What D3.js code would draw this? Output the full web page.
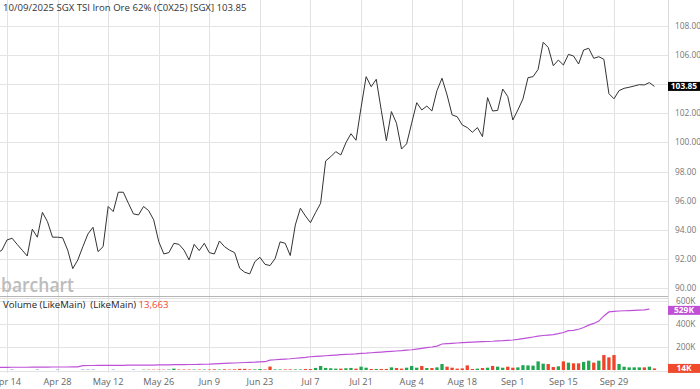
<!DOCTYPE html>
<html>
<head>
<meta charset="utf-8">
<script src="https://cdn.jsdelivr.net/npm/d3@7"></script>
<style>
    body { margin: 0; background: #fff; }
    svg { display: block; font-family: "Open Sans", "Noto Sans", sans-serif; }
</style>
</head>
<body>
<div id="chart"></div>
<script>
//-----DATA-----//
// daily closes, one per weekday from Apr 10 to Oct 9 2025
const firstDay = new Date(2025, 3, 10);
const lastDay = new Date(2025, 9, 9);

const closes = [
    92.4, 92.6,
    93.3, 93.42, 93.0, 92.6, 92.2, 94.04, 93.49, 95.2, 94.56, 93.49,
    93.49, 93.45, 92.6, 91.33, 91.93, 92.84, 93.71, 94.17, 92.5, 92.84,
    95.6, 95.25, 96.58, 96.58, 95.82, 95.09, 95.02, 95.6, 95.32, 94.68,
    93.19, 92.34, 92.43, 93.07, 93.0, 92.6, 91.93, 93.0, 92.57, 93.07,
    92.43, 92.34, 93.23, 92.84, 92.6, 92.43, 91.36, 91.08, 90.97, 91.81,
    92.11, 91.63, 91.54, 92.02, 93.17, 93.07, 92.23, 94.33, 95.48, 94.95,
    94.49, 95.18, 95.82, 98.73, 99.02, 99.37, 99.14, 99.98, 100.6, 100.15,
    102.4, 104.52, 103.83, 104.34, 102.2, 100.12, 102.12, 101.32, 99.55, 99.9,
    101.32, 102.73, 102.23, 102.5, 102.16, 103.56, 104.41, 103.26, 101.89, 101.77,
    101.2, 101.02, 100.7, 101.02, 100.4, 103.08, 102.16, 102.2, 103.67, 103.15,
    101.54, 102.23, 102.99, 104.45, 104.52, 105.02, 106.88, 106.53, 105.27, 105.66,
    105.32, 106.05, 105.94, 105.39, 106.35, 106.47, 105.78, 105.89, 105.71, 103.35,
    103.0, 103.56, 103.72, 103.79, 103.88, 103.97, 103.95, 104.11, 103.85
];

// volume in thousands of contracts
const volumes = [
    0, 0, 0, 6, 0, 0, 0, 0, 6, 0, 0, 0, 6, 0, 0, 0,
    0, 6, 6, 6, 0, 0, 0, 6, 0, 0, 0, 6, 0, 3, 3, 3,
    3, 3, 4, 12, 4, 4, 4, 4, 4, 4, 4, 6, 4, 6, 4, 6, 10, 10, 5, 5,
    8, 5, 30, 5, 5, 5, 5, 5, 5, 8, 8, 18, 35, 18, 15, 12, 12, 15, 18, 12,
    29, 20, 9, 9, 9, 9, 23, 17, 12, 20, 35, 20, 35, 17, 17, 23, 52, 29, 20, 12,
    14, 40, 9, 12, 17, 20, 35, 29, 20, 29, 20, 23, 42, 40, 38, 75, 55, 52, 26, 32,
    75, 64, 58, 58, 70, 81, 64, 81, 130, 110, 130, 52, 29, 23, 23, 23, 23, 29, 13.663
];

// open interest in thousands (reported up to Oct 8)
const openInterest = [
    23, 23, 23, 24, 24, 24, 24, 25, 25, 25, 25, 26, 26, 26, 26, 27, 27,
    38, 39, 39, 40, 40, 40, 41, 41, 41, 42, 42, 42, 43, 43, 43, 44, 44, 45, 46,
    47, 47, 48, 48, 49, 50, 51, 53, 55, 57, 59, 61, 63, 65, 67, 68, 70,
    72, 86, 89, 92, 95, 98, 102, 106, 110, 115, 118, 121, 124, 127, 130, 133, 136, 138, 141,
    145, 147, 150, 153, 156, 159, 162, 165, 168, 172, 176, 182, 188, 194, 200, 208, 226, 229, 232, 235,
    238, 240, 242, 244, 246, 248, 250, 253, 255, 258, 261, 266, 273, 280, 287, 294, 300, 304, 308, 316,
    326, 342, 345, 354, 370, 390, 405, 425, 470, 505, 510, 513, 515, 517, 519, 521, 523, 529
];

const priceTicks = [90, 92, 94, 96, 98, 100, 102, 104, 106, 108];
const volumeTicks = [0, 200, 400, 600];
const dateTicks = ["Apr 14", "Apr 28", "May 12", "May 26", "Jun 9", "Jun 23", "Jul 7",
    "Jul 21", "Aug 4", "Aug 18", "Sep 1", "Sep 15", "Sep 29"];
// days before this only carry settlement volume (drawn neutral)
const firstTradedDay = new Date(2025, 4, 21);

const titleText = "10/09/2025 SGX TSI Iron Ore 62% (C0X25) [SGX] 103.85";
const lastClose = 103.85;
const lastVolume = 13663;
const lastOpenInterest = 529;

//-----LAYOUT-----//
const width = 700, height = 389;
const plotRight = 668;
const gridBottom = 373;

const dates = d3.timeDay.range(firstDay, d3.timeDay.offset(lastDay, 1))
    .filter(d => d.getDay() !== 0 && d.getDay() !== 6);
const fmtDay = d3.timeFormat("%b %-d");

const x = d3.scaleLinear()
    .domain([0, dates.length - 1])
    .range([-3.12, -3.12 + (dates.length - 1) * 5.0583]);
const y = d3.scaleLinear().domain([90, 108]).range([288, 26]);
const v = d3.scaleLinear().domain([0, 600]).range([370, 301]);

const tickIdx = dateTicks.map(t => dates.findIndex(d => fmtDay(d) === t));
const crisp = n => Math.round(n) + 0.5;

const svg = d3.select("#chart")
    .append("svg")
    .attr("width", width)
    .attr("height", height);

svg.append("defs").append("clipPath")
    .attr("id", "plot-clip")
    .append("rect")
    .attr("x", 0).attr("y", 0)
    .attr("width", plotRight).attr("height", height);

// vertical grid
svg.append("g")
    .selectAll("line")
    .data(tickIdx)
    .join("line")
    .attr("x1", d => crisp(x(d)))
    .attr("x2", d => crisp(x(d)))
    .attr("y1", 0)
    .attr("y2", gridBottom)
    .attr("stroke", "#e2e2e2");

// price grid
svg.append("g")
    .selectAll("line")
    .data(priceTicks)
    .join("line")
    .attr("x1", 0)
    .attr("x2", plotRight)
    .attr("y1", d => crisp(y(d)))
    .attr("y2", d => crisp(y(d)))
    .attr("stroke", "#e4e4e4");

// volume grid
svg.append("g")
    .selectAll("line")
    .data(volumeTicks)
    .join("line")
    .attr("x1", 0)
    .attr("x2", plotRight)
    .attr("y1", d => crisp(v(d)) + (d === 0 ? 1 : 0))
    .attr("y2", d => crisp(v(d)) + (d === 0 ? 1 : 0))
    .attr("stroke", "#e4e4e4");

// right edge of plot
svg.append("line")
    .attr("x1", plotRight + 0.5).attr("x2", plotRight + 0.5)
    .attr("y1", 0).attr("y2", gridBottom)
    .attr("stroke", "#dadada");

// pane separator
svg.append("line")
    .attr("x1", 0).attr("x2", plotRight)
    .attr("y1", 296.5).attr("y2", 296.5)
    .attr("stroke", "#b5b5b5");
svg.append("line")
    .attr("x1", 0).attr("x2", plotRight)
    .attr("y1", 298.5).attr("y2", 298.5)
    .attr("stroke", "#e0e0e0");

// watermark
svg.append("text")
    .attr("x", 1)
    .attr("y", 291.5)
    .attr("font-size", 19)
    .attr("font-weight", 600)
    .attr("fill", "#bcbcbc")
    .attr("textLength", 73)
    .attr("lengthAdjust", "spacingAndGlyphs")
    .text("barchart");

// title
svg.append("text")
    .attr("x", 3)
    .attr("y", 10.5)
    .attr("font-size", 9.6)
    .attr("fill", "#333")
    .text(titleText);

// price line
svg.append("path")
    .datum(closes)
    .attr("clip-path", "url(#plot-clip)")
    .attr("fill", "none")
    .attr("stroke", "#333")
    .attr("stroke-width", 1)
    .attr("d", d3.line().x((d, i) => x(i)).y(d => y(d)));

// volume bars, coloured by change of close
const volColor = i => {
    if (dates[i] < firstTradedDay) return "#9fb3e6";
    return closes[i] >= closes[i - 1] ? "#1fa64f" : "#ef4429";
};

svg.append("g")
    .attr("clip-path", "url(#plot-clip)")
    .selectAll("rect")
    .data(volumes)
    .join("rect")
    .attr("x", (d, i) => x(i) - 1.65)
    .attr("width", 3.3)
    .attr("y", d => v(d))
    .attr("height", d => v(0) - v(d))
    .attr("fill", (d, i) => volColor(i));

// open interest line
svg.append("path")
    .datum(openInterest)
    .attr("fill", "none")
    .attr("stroke", "#bd52d8")
    .attr("stroke-width", 1.2)
    .attr("d", d3.line().x((d, i) => x(i)).y(d => v(d)));

// volume title
const volTitle = svg.append("text")
    .attr("x", 3)
    .attr("y", 307.5)
    .attr("font-size", 9.6)
    .attr("fill", "#222")
    .attr("xml:space", "preserve");
volTitle.append("tspan").text("Volume (LikeMain)  (LikeMain) ");
volTitle.append("tspan").attr("fill", "#ef4a2c").text(d3.format(",")(lastVolume));

// right axis labels (the one under the last-price box is hidden)
svg.append("g")
    .selectAll("text")
    .data(priceTicks.filter(d => Math.abs(y(d) - y(lastClose)) > 7))
    .join("text")
    .attr("x", 675)
    .attr("y", d => y(d) + 3)
    .attr("font-size", 8.4)
    .attr("fill", "#777")
    .text(d => d3.format(".2f")(d));

svg.append("g")
    .selectAll("text")
    .data(volumeTicks.filter(d => d > 0))
    .join("text")
    .attr("x", 676)
    .attr("y", d => v(d) + 2.8)
    .attr("font-size", 8.4)
    .attr("fill", "#777")
    .text(d => d + "K");

// last value boxes
function valueBox(cy, fill, label) {
    const g = svg.append("g");
    g.append("rect")
        .attr("x", plotRight)
        .attr("y", cy - 4.5)
        .attr("width", width - plotRight)
        .attr("height", 9)
        .attr("fill", fill);
    g.append("text")
        .attr("x", plotRight + 16)
        .attr("y", cy + 3)
        .attr("text-anchor", "middle")
        .attr("font-size", 8.4)
        .attr("font-weight", "bold")
        .attr("fill", "#fff")
        .text(label);
}

valueBox(y(lastClose), "#000", d3.format(".2f")(lastClose));
valueBox(v(lastOpenInterest) + 1.2, "#c04fd6", lastOpenInterest + "K");
valueBox(v(lastVolume / 1000), "#ef4a2c", Math.round(lastVolume / 1000) + "K");

// date axis
svg.append("g")
    .selectAll("text")
    .data(tickIdx)
    .join("text")
    .attr("x", d => x(d))
    .attr("y", 385)
    .attr("text-anchor", "middle")
    .attr("font-size", 9.2)
    .attr("fill", "#666")
    .text((d, i) => dateTicks[i]);
</script>
</body>
</html>
